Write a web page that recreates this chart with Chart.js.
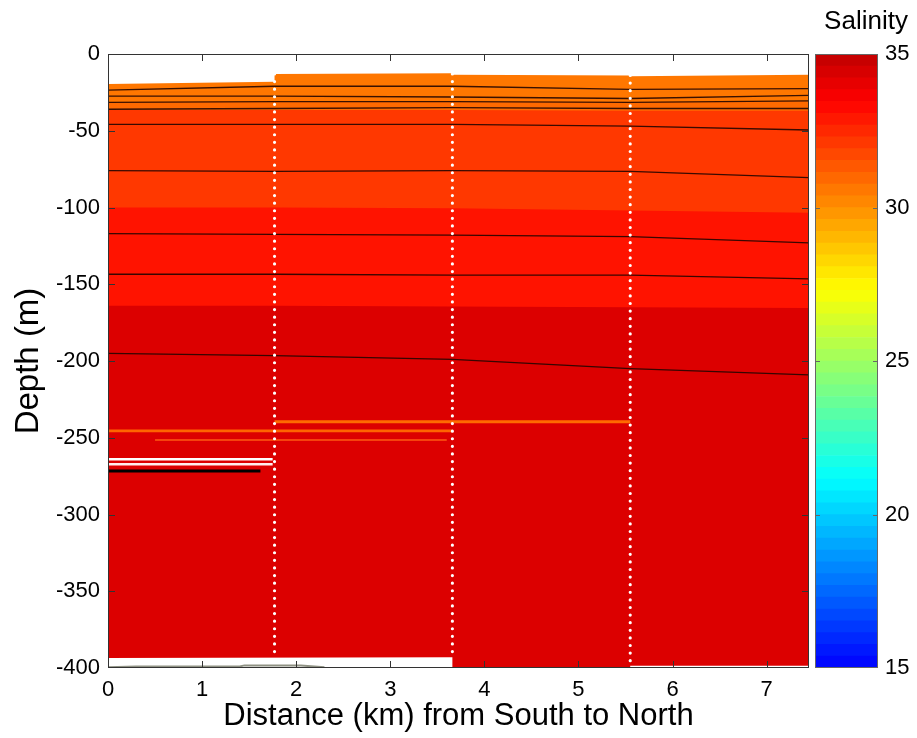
<!DOCTYPE html>
<html lang="en">
<head>
<meta charset="UTF-8">
<title>Salinity section</title>
<script src="https://cdn.jsdelivr.net/npm/chart.js"></script>
<style>
  body { margin: 0; background: #fff; }
  #wrap { position: relative; width: 917px; height: 738px; }
  #mainBox { position: absolute; left: 0; top: 0; width: 812px; height: 738px; }
  #barBox { position: absolute; left: 812px; top: 0; width: 105px; height: 738px; }
</style>
</head>
<body>
<div id="wrap">
  <div id="mainBox"><canvas id="sectionChart" width="812" height="738"></canvas></div>
  <div id="barBox"><canvas id="salinityBar" width="105" height="738"></canvas></div>
</div>
<script>
// ---- values ----
const xTicks = [0, 1, 2, 3, 4, 5, 6, 7];
const yTicks = [0, -50, -100, -150, -200, -250, -300, -350, -400];
const cbarTicks = [15, 20, 25, 30, 35];
const clim = [15, 35];

// CTD stations (dotted profiles)
const stationKm = [1.77, 3.66, 5.55];
const stationTop = [-13, -13, -14];
const stationBottom = [-393, -391, -397];

// top and bottom of the gridded section (steps at the stations)
const surfaceKm = [0, 1.77, 1.77, 3.66, 3.66, 5.55, 5.55, 7.45];
const surfaceDepth = [-19.5, -18, -13, -12.5, -13.5, -14, -14.5, -13.5];
const bottomKm = [0, 3.66, 3.66, 5.55, 5.55, 7.45];
const bottomDepth = [-393.5, -393, -400, -400, -398.5, -398.5];

// filled salinity bands, top to bottom, and the depth of each band's lower edge
const nodeKm = [0, 1.77, 3.66, 5.55, 7.45];
const bandSalinity = [30.6, 30.9, 32.1, 33.0, 34.3];
const edge1Depth = [-31.5, -31, -31, -31.5, -30.5];
const edge2Depth = [-36.5, -36.5, -36.5, -37, -37];
const edge3Depth = [-100, -100, -100.5, -102, -103.5];
const edge4Depth = [-164, -164, -164.5, -165, -165.5];

// black contour lines
const contour1 = [-23.5, -21, -21, -23, -22.5];
const contour2 = [-27.5, -27.5, -28, -29, -27];
const contour3 = [-31.5, -31, -31, -31.5, -30.5];
const contour4 = [-36, -35.5, -35, -35.5, -35.5];
const contour5 = [-45.8, -45.8, -45.8, -47, -49.5];
const contour6 = [-76, -76.5, -76, -76.5, -80.5];
const contour7 = [-117, -117.5, -118, -119, -123];
const contour8 = [-143.5, -143.5, -144, -144, -146.5];
const contour9 = [-195, -196.5, -199, -205, -209];

// thin streaks near 240-272 m
const streakFrom = [0, 0.5, 1.77, 0, 0, 0];
const streakTo = [3.66, 3.6, 5.55, 1.75, 1.75, 1.62];
const streakDepth = [-245.5, -251.5, -239.5, -264, -267.3, -271.7];

// sea bed trace at the bottom left
const seabedKm = [0, 0.3, 1.4, 1.45, 2.05, 2.3];
const seabedDepth = [-399.5, -399, -399, -398.3, -398.3, -399.5];

// ---- styling ----
const streakColor = ['#ff6400', '#ff5a10', '#ff6a00', '#ffffff', '#ffeeee', '#000000'];
const streakWidth = [2.6, 1.6, 3, 2.5, 2.5, 3];
const contourColor = 'rgba(35,5,0,0.9)';

Chart.defaults.font.family = "'Liberation Sans', Arial, Helvetica, sans-serif";
Chart.defaults.color = '#000';

function jet(t) {
    const c = v => Math.round(255 * Math.max(0, Math.min(1, v)));
    return 'rgb(' + c(1.5 - Math.abs(4 * t - 3)) + ',' + c(1.5 - Math.abs(4 * t - 2)) + ',' + c(1.5 - Math.abs(4 * t - 1)) + ')';
}
// colorbar spans jet from 0.125 to 0.9375
function salinityColor(s) {
    return jet(0.125 + (s - clim[0]) / (clim[1] - clim[0]) * 0.8125);
}
function pts(xs, ys) {
    return xs.map((x, i) => ({ x: x, y: ys[i] }));
}

// frame box and inward tick marks, like the matlab axes
const frameTicks = {
    id: 'frameTicks',
    afterDatasetsDraw(chart, args, opts) {
        const { ctx, chartArea: a, scales } = chart;
        const L = opts.len;
        ctx.save();
        ctx.strokeStyle = opts.color;
        ctx.lineWidth = 1;
        ctx.beginPath();
        if (opts.xTicks) {
            scales.x.ticks.forEach(t => {
                const px = Math.round(scales.x.getPixelForValue(t.value)) + 0.5;
                ctx.moveTo(px, a.bottom); ctx.lineTo(px, a.bottom - L);
                ctx.moveTo(px, a.top); ctx.lineTo(px, a.top + L);
            });
        }
        scales.y.ticks.forEach(t => {
            if (t.value === scales.y.min || t.value === scales.y.max) return;
            const py = Math.round(scales.y.getPixelForValue(t.value)) + 0.5;
            ctx.moveTo(a.left, py); ctx.lineTo(a.left + L, py);
            ctx.moveTo(a.right, py); ctx.lineTo(a.right - L, py);
        });
        ctx.stroke();
        ctx.strokeRect(Math.round(a.left) + 0.5, Math.round(a.top) + 0.5, Math.round(a.width) - 1, Math.round(a.height) - 1);
        ctx.restore();
    }
};

// ---- section chart ----
const datasets = [];
let layer = 0;
function add(ds) {
    ds.order = 1000 - layer;
    layer++;
    ds.pointRadius = 0;
    datasets.push(ds);
}

const edges = [edge1Depth, edge2Depth, edge3Depth, edge4Depth];
add({ data: pts(surfaceKm, surfaceDepth), fill: 'start', backgroundColor: salinityColor(bandSalinity[0]), borderColor: 'transparent', borderWidth: 0 });
edges.forEach((e, i) => {
    add({ data: pts(nodeKm, e), fill: 'start', backgroundColor: salinityColor(bandSalinity[i + 1]), borderColor: 'transparent', borderWidth: 0 });
});
add({ data: pts(bottomKm, bottomDepth), fill: 'start', backgroundColor: '#ffffff', borderColor: 'transparent', borderWidth: 0 });
add({ data: pts(seabedKm, seabedDepth), borderColor: '#8f9284', borderWidth: 2, fill: false });

streakDepth.forEach((d, i) => {
    add({ data: [{ x: streakFrom[i], y: d }, { x: streakTo[i], y: d }], borderColor: streakColor[i], borderWidth: streakWidth[i], fill: false });
});

[contour1, contour2, contour3, contour4, contour5, contour6, contour7, contour8, contour9].forEach(c => {
    add({ data: pts(nodeKm, c), borderColor: contourColor, borderWidth: 1.3, fill: false });
});

stationKm.forEach((x, i) => {
    add({
        data: [{ x: x, y: stationTop[i] }, { x: x, y: stationBottom[i] }],
        borderColor: '#ffffff', borderWidth: 3.2, borderDash: [0, 7.6], borderCapStyle: 'round', fill: false
    });
});

new Chart(document.getElementById('sectionChart'), {
    type: 'line',
    data: { datasets: datasets },
    options: {
        responsive: false,
        animation: false,
        layout: { padding: { top: 54, right: 3, left: 0, bottom: 0 } },
        plugins: {
            legend: { display: false },
            tooltip: { enabled: false },
            frameTicks: { color: '#333', len: 7, xTicks: true }
        },
        scales: {
            x: {
                type: 'linear', min: 0, max: 7.45,
                grid: { display: false, drawTicks: false },
                border: { display: false },
                afterBuildTicks: s => { s.ticks = xTicks.map(v => ({ value: v })); },
                afterFit: s => { s.height = 70; },
                ticks: { padding: 9, font: { size: 22 }, color: '#000' },
                title: { display: true, text: 'Distance (km) from South to North', font: { size: 31 }, color: '#000', padding: { top: 0, bottom: 3 } }
            },
            y: {
                type: 'linear', min: -400, max: 0,
                grid: { display: false, drawTicks: false },
                border: { display: false },
                afterBuildTicks: s => { s.ticks = yTicks.map(v => ({ value: v })); },
                afterFit: s => { s.width = 108; },
                ticks: { padding: 8, font: { size: 22 }, color: '#000' },
                title: { display: true, text: 'Depth (m)', font: { size: 33 }, color: '#000', padding: { top: 9, bottom: 0 } }
            }
        }
    },
    plugins: [frameTicks]
});

// ---- colorbar ----
const cbarSteps = 52;
const cbarLevels = [];
for (let i = 0; i < cbarSteps; i++) {
    const w = (clim[1] - clim[0]) / cbarSteps;
    cbarLevels.push([clim[0] + i * w, clim[0] + (i + 1) * w]);
}

new Chart(document.getElementById('salinityBar'), {
    type: 'bar',
    data: {
        labels: [''],
        datasets: cbarLevels.map((lv, i) => ({
            data: [lv],
            backgroundColor: jet((i + 8.5) / 64),
            borderWidth: 0,
            grouped: false,
            barPercentage: 1,
            categoryPercentage: 1
        }))
    },
    options: {
        responsive: false,
        animation: false,
        layout: { padding: { top: 0, right: 0, left: 3, bottom: 70 } },
        plugins: {
            legend: { display: false },
            tooltip: { enabled: false },
            title: { display: true, text: 'Salinity', font: { size: 26, weight: 'normal' }, color: '#000', padding: { top: 6, bottom: 17 } },
            frameTicks: { color: '#666', len: 5, xTicks: false }
        },
        scales: {
            x: { display: false },
            y: {
                position: 'right', min: clim[0], max: clim[1],
                grid: { display: false, drawTicks: false },
                border: { display: false },
                afterBuildTicks: s => { s.ticks = cbarTicks.map(v => ({ value: v })); },
                afterFit: s => { s.width = 39; },
                ticks: { padding: 7, font: { size: 22 }, color: '#000' }
            }
        }
    },
    plugins: [frameTicks]
});
</script>
</body>
</html>
